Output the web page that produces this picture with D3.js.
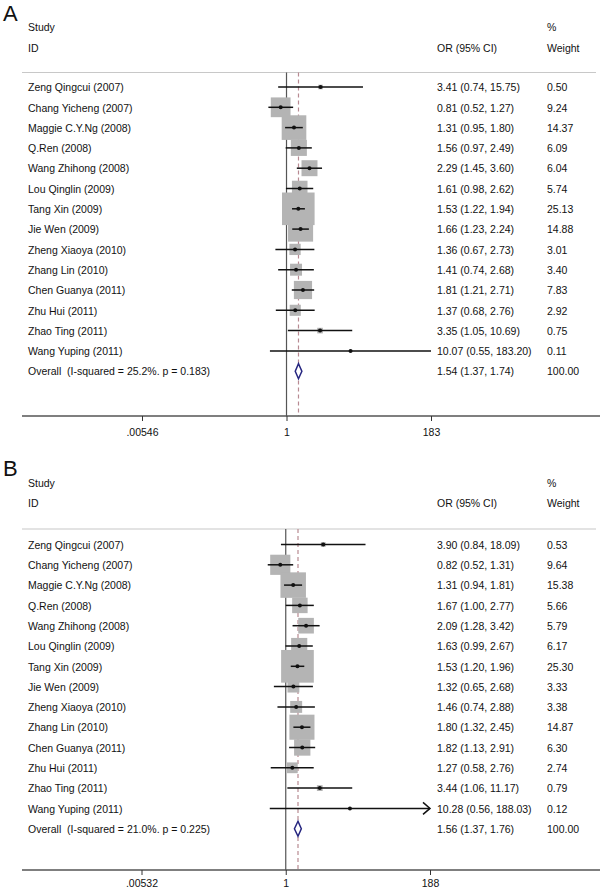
<!DOCTYPE html>
<html><head><meta charset="utf-8">
<script src="https://cdn.jsdelivr.net/npm/d3@7"></script>
<style>
html,body{margin:0;padding:0;background:#fff;}
svg{display:block;font-family:"Liberation Sans",Arial,sans-serif;}
text{white-space:pre;fill:#111;}
</style></head><body>
<svg id="chart" width="600" height="890"></svg>
<script>
const studies = ["Zeng Qingcui (2007)","Chang Yicheng (2007)","Maggie C.Y.Ng (2008)","Q.Ren (2008)","Wang Zhihong (2008)","Lou Qinglin (2009)","Tang Xin (2009)","Jie Wen (2009)","Zheng Xiaoya (2010)","Zhang Lin (2010)","Chen Guanya (2011)","Zhu Hui (2011)","Zhao Ting (2011)","Wang Yuping (2011)"];

const orA = [3.41,0.81,1.31,1.56,2.29,1.61,1.53,1.66,1.36,1.41,1.81,1.37,3.35,10.07];
const loA = [0.74,0.52,0.95,0.97,1.45,0.98,1.22,1.23,0.67,0.74,1.21,0.68,1.05,0.55];
const hiA = [15.75,1.27,1.80,2.49,3.60,2.62,1.94,2.24,2.73,2.68,2.71,2.76,10.69,183.20];
const wA  = [0.50,9.24,14.37,6.09,6.04,5.74,25.13,14.88,3.01,3.40,7.83,2.92,0.75,0.11];
const overallA = [1.54,1.37,1.74];
const overallLabelA = "Overall  (I-squared = 25.2%. p = 0.183)";
const ticksA = [0.00546,1,183];
const tickLabelsA = [".00546","1","183"];
const arrowA = [false,false,false,false,false,false,false,false,false,false,false,false,false,false];

const orB = [3.90,0.82,1.31,1.67,2.09,1.63,1.53,1.32,1.46,1.80,1.82,1.27,3.44,10.28];
const loB = [0.84,0.52,0.94,1.00,1.28,0.99,1.20,0.65,0.74,1.32,1.13,0.58,1.06,0.56];
const hiB = [18.09,1.31,1.81,2.77,3.42,2.67,1.96,2.68,2.88,2.45,2.91,2.76,11.17,188.03];
const wB  = [0.53,9.64,15.38,5.66,5.79,6.17,25.30,3.33,3.38,14.87,6.30,2.74,0.79,0.12];
const overallB = [1.56,1.37,1.76];
const overallLabelB = "Overall  (I-squared = 21.0%. p = 0.225)";
const ticksB = [0.00532,1,188];
const tickLabelsB = [".00532","1","188"];
const arrowB = [false,false,false,false,false,false,false,false,false,false,false,false,false,true];

const svg = d3.select("#chart");
const fmt = d3.format(".2f");

function drawPanel(cfg, letter, or, lo, hi, w, overall, overallLabel, ticks, tickLabels, arrows) {
  const g = svg.append("g");
  const x = d3.scaleLog().domain([ticks[0], ticks[2]]).range([cfg.xMin, cfg.xMax]);
  const rowY = i => cfg.firstRow + i * cfg.rowStep;
  const overallY = rowY(studies.length);
  const fs = 10.5;

  g.append("text").attr("x", 3).attr("y", cfg.letterY).attr("font-size", 22).text(letter);
  g.append("text").attr("x", 28).attr("y", cfg.studyY + 3.8).attr("font-size", fs).text("Study");
  g.append("text").attr("x", 28).attr("y", cfg.studyY + 20.5 + 3.8).attr("font-size", fs).text("ID");
  g.append("text").attr("x", 547).attr("y", cfg.studyY + 3.8).attr("font-size", fs).text("%");
  g.append("text").attr("x", 437).attr("y", cfg.studyY + 20.5 + 3.8).attr("font-size", fs).text("OR (95% CI)");
  g.append("text").attr("x", 547).attr("y", cfg.studyY + 20.5 + 3.8).attr("font-size", fs).text("Weight");

  // header rule
  g.append("line").attr("x1", 22).attr("x2", 596).attr("y1", cfg.ruleY).attr("y2", cfg.ruleY)
    .attr("stroke", "#c8c8c8").attr("stroke-width", 1.2);

  // null line
  g.append("line").attr("x1", x(1)).attr("x2", x(1)).attr("y1", cfg.ruleY).attr("y2", cfg.axisY)
    .attr("stroke", "#555").attr("stroke-width", 1.2);
  // overall dashed line
  g.append("line").attr("x1", x(overall[0])).attr("x2", x(overall[0])).attr("y1", cfg.ruleY).attr("y2", cfg.axisY)
    .attr("stroke", "#b88a92").attr("stroke-width", 1.2).attr("stroke-dasharray", "4,3");

  // boxes
  const k = 6.5;
  g.selectAll("rect.box").data(studies).enter().append("rect")
    .attr("x", (d, i) => x(or[i]) - k * Math.sqrt(w[i]) / 2)
    .attr("y", (d, i) => rowY(i) - k * Math.sqrt(w[i]) / 2)
    .attr("width", (d, i) => k * Math.sqrt(w[i]))
    .attr("height", (d, i) => k * Math.sqrt(w[i]))
    .attr("fill", "#b4b4b4");

  // CI lines
  g.selectAll("line.ci").data(studies).enter().append("line")
    .attr("x1", (d, i) => x(lo[i])).attr("x2", (d, i) => arrows[i] ? x(ticks[2]) : x(hi[i]))
    .attr("y1", (d, i) => rowY(i)).attr("y2", (d, i) => rowY(i))
    .attr("stroke", "#111").attr("stroke-width", 1.5);
  // arrows
  studies.forEach((d, i) => {
    if (arrows[i]) {
      const ax = x(ticks[2]), ay = rowY(i);
      g.append("path").attr("d", `M${ax - 7},${ay - 6} L${ax},${ay} L${ax - 7},${ay + 6}`)
        .attr("fill", "none").attr("stroke", "#111").attr("stroke-width", 1.5);
    }
  });
  // points
  g.selectAll("circle.pt").data(studies).enter().append("circle")
    .attr("cx", (d, i) => x(or[i])).attr("cy", (d, i) => rowY(i)).attr("r", 2)
    .attr("fill", "#111");

  // diamond
  const dh = 7.5;
  g.append("path")
    .attr("d", `M${x(overall[1])},${overallY} L${x(overall[0])},${overallY - dh} L${x(overall[2])},${overallY} L${x(overall[0])},${overallY + dh} Z`)
    .attr("fill", "#fff").attr("stroke", "#262680").attr("stroke-width", 1.5);

  // labels
  g.selectAll("text.study").data(studies).enter().append("text")
    .attr("x", 28).attr("y", (d, i) => rowY(i) + 4.2).attr("font-size", fs).text(d => d);
  g.append("text").attr("x", 28).attr("y", overallY + 4.2).attr("font-size", fs).text(overallLabel);

  g.selectAll("text.or").data(studies).enter().append("text")
    .attr("x", 437).attr("y", (d, i) => rowY(i) + 4.2).attr("font-size", fs)
    .text((d, i) => `${fmt(or[i])} (${fmt(lo[i])}, ${fmt(hi[i])})`);
  g.append("text").attr("x", 437).attr("y", overallY + 4.2).attr("font-size", fs)
    .text(`${fmt(overall[0])} (${fmt(overall[1])}, ${fmt(overall[2])})`);
  g.selectAll("text.w").data(studies).enter().append("text")
    .attr("x", 547).attr("y", (d, i) => rowY(i) + 4.2).attr("font-size", fs)
    .text((d, i) => fmt(w[i]));
  g.append("text").attr("x", 547).attr("y", overallY + 4.2).attr("font-size", fs).text("100.00");

  // axis
  g.append("line").attr("x1", 22).attr("x2", 600).attr("y1", cfg.axisY).attr("y2", cfg.axisY)
    .attr("stroke", "#555").attr("stroke-width", 1.5);
  const axis = d3.axisBottom(x).tickValues(ticks).tickFormat((d, i) => tickLabels[i]).tickSize(5).tickSizeOuter(0);
  const ag = g.append("g").attr("transform", `translate(0,${cfg.axisY})`).call(axis);
  ag.select(".domain").remove();
  ag.selectAll(".tick line").attr("stroke", "#333");
  ag.selectAll(".tick text").attr("font-size", fs).attr("font-family", "Liberation Sans, Arial, sans-serif")
    .attr("fill", "#111").style("fill", "#111").attr("dy", "0.71em").attr("y", cfg.tickLabelDy);
}

drawPanel({letterY: 21, studyY: 27.5, ruleY: 72.5, firstRow: 87, rowStep: 20.3, axisY: 416, xMin: 142, xMax: 431, tickLabelDy: 13},
  "A", orA, loA, hiA, wA, overallA, overallLabelA, ticksA, tickLabelsA, arrowA);
drawPanel({letterY: 476, studyY: 483, ruleY: 529, firstRow: 544.5, rowStep: 20.3, axisY: 870, xMin: 141.5, xMax: 430, tickLabelDy: 10},
  "B", orB, loB, hiB, wB, overallB, overallLabelB, ticksB, tickLabelsB, arrowB);
</script>
</body></html>
